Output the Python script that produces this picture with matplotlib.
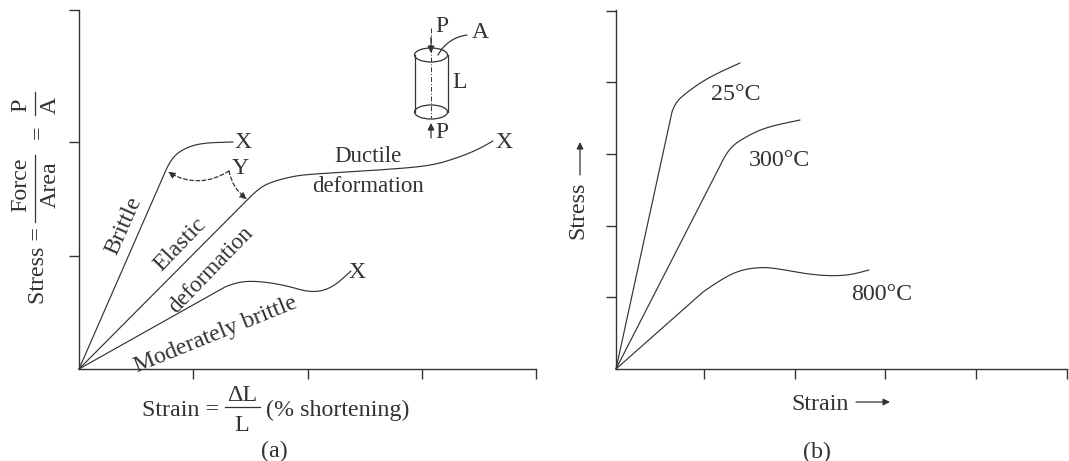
import numpy as np
import matplotlib
matplotlib.use("Agg")
import matplotlib.pyplot as plt
from matplotlib.patches import Ellipse, FancyArrowPatch

INK = "#333333"
plt.rcParams["font.family"] = ["Liberation Serif", "DejaVu Serif"]

# ---- panel (a) curves (arbitrary units)
brittle_x = [0, 87, 92, 104, 122, 154]
brittle_y = [0, 199, 210, 220, 226, 227]
ductile_x = [0, 169, 179, 192, 215, 234, 301, 351, 378, 398, 414]
ductile_y = [0, 170, 180, 187, 193, 195, 199, 203, 211, 219, 228]
moderate_x = [0, 146, 158, 178, 205, 233, 253, 272]
moderate_y = [0, 82, 87, 88, 84, 76, 81, 98]
a_xticks = [0, 114, 229, 343, 457]
a_yticks = [0, 113, 227, 359]

# ---- panel (b) curves
t25_x = [0, 56, 59, 70, 87, 104, 124]
t25_y = [0, 257, 266, 276, 288, 297, 306]
t300_x = [0, 107, 113, 131, 151, 184]
t300_y = [0, 209, 221, 233, 242, 249]
t800_x = [0, 87, 104, 124, 146, 164, 191, 214, 234, 253]
t800_y = [0, 77, 89, 99, 102, 100, 95, 93, 94, 99]
b_xticks = [0, 88, 179, 269, 360, 451]
b_yticks = [0, 72, 143, 215, 287, 358]

W, H = 1069, 461
fig = plt.figure(figsize=(W / 100, H / 100), dpi=100, facecolor="white")


def make_axes(left, top, right, bottom, xticks, yticks):
    ax = fig.add_axes([left / W, 1 - bottom / H, (right - left) / W, (bottom - top) / H])
    ax.set_xlim(0, right - left)
    ax.set_ylim(0, bottom - top)
    ax.patch.set_alpha(0)
    for s in ("top", "right"):
        ax.spines[s].set_visible(False)
    for s in ("left", "bottom"):
        ax.spines[s].set_color(INK)
        ax.spines[s].set_linewidth(1.0)
    ax.set_xticks(xticks)
    ax.set_yticks(yticks)
    ax.tick_params(length=7.5, width=1.0, color=INK, labelbottom=False, labelleft=False)
    ax.xaxis.get_major_ticks()[0].tick1line.set_visible(False)
    ax.yaxis.get_major_ticks()[0].tick1line.set_visible(False)
    return ax


def curve(ax, xs, ys):
    """Straight first segment, then a smooth path through the read points."""
    pts = np.column_stack([xs, ys]).astype(float)
    out = [pts[0], pts[1]]
    t = np.linspace(0, 1, 20)[:, None]
    start = pts[1]
    for i in range(2, len(pts) - 1):
        end = (pts[i] + pts[i + 1]) / 2
        out.extend((1 - t) ** 2 * start + 2 * t * (1 - t) * pts[i] + t ** 2 * end)
        start = end
    out.append(pts[-1])
    out = np.array(out)
    ax.plot(out[:, 0], out[:, 1], color=INK, lw=0.85, clip_on=False, solid_capstyle="round")


def label(ax, x, y, s, rot=0, size=17.3):
    a = np.radians(rot)
    ax.text(x + 2 * np.sin(a), y - 2 * np.cos(a), s, rotation=rot, rotation_mode="anchor",
            ha="center", va="center", fontsize=size, color=INK, clip_on=False)


def rule(ax, xs, ys, **kw):
    ax.plot(xs, ys, color=INK, lw=kw.pop("lw", 0.9), clip_on=False, **kw)


def arrow(ax, a, b, style="-|>", rad=0.0, ls="-", scale=10):
    ax.add_patch(FancyArrowPatch(a, b, arrowstyle=style, mutation_scale=scale, color=INK, lw=0.9,
                                 linestyle=ls, shrinkA=0, shrinkB=0, clip_on=False,
                                 connectionstyle=f"arc3,rad={rad}"))


# ---- panel (a)
ax = make_axes(79, 10, 536, 369, a_xticks, a_yticks)
curve(ax, brittle_x, brittle_y)
curve(ax, ductile_x, ductile_y)
curve(ax, moderate_x, moderate_y)

label(ax, 164, 229, "X", size=17)
label(ax, 161, 202, "Y", size=17)
label(ax, 425, 229, "X", size=17)
label(ax, 278, 99, "X", size=17)
label(ax, 43, 144, "Brittle", 66)
label(ax, 100, 126, "Elastic", 46)
label(ax, 131, 100, "deformation", 46, size=16.5)
label(ax, 136, 36, "Moderately brittle", 22)
label(ax, 289, 214, "Ductile", size=16.5)
label(ax, 289, 184, "deformation", size=16.5)

arrow(ax, (150, 198), (89, 197), rad=-0.3, ls=(0, (3, 2)))
arrow(ax, (150, 198), (168, 170), rad=0.2, ls=(0, (3, 2)))

# specimen
cx, top_y, bot_y, cw, ch = 352, 314, 257, 33, 14
ax.add_patch(Ellipse((cx, top_y), cw, ch, fill=False, ec=INK, lw=0.9, clip_on=False))
ax.add_patch(Ellipse((cx, bot_y), cw, ch, fill=False, ec=INK, lw=0.9, clip_on=False))
rule(ax, [cx - cw / 2] * 2, [top_y, bot_y])
rule(ax, [cx + cw / 2] * 2, [top_y, bot_y])
rule(ax, [cx, cx], [341, 251], ls=(0, (5, 2, 1, 2)), lw=0.7)
arrow(ax, (cx, 332), (cx, 316))
arrow(ax, (cx, 231), (cx, 246))
arrow(ax, (388, 334), (359, 314), style="-", rad=0.25)
label(ax, 363, 344, "P", size=17)
label(ax, 401, 338, "A", size=17)
label(ax, 381, 288, "L", size=17)
label(ax, 363, 239, "P", size=17)

# y-axis formula
label(ax, -43, 103, "Stress =", 90)
label(ax, -60, 184, "Force", 90)
label(ax, -31, 184, "Area", 90)
rule(ax, [-44, -44], [147, 214])
label(ax, -43, 237, "=", 90)
label(ax, -60, 264, "P", 90)
label(ax, -31, 264, "A", 90)
rule(ax, [-44, -44], [254, 277])

# x-axis formula
label(ax, 102, -39, "Strain =")
label(ax, 163, -24, "ΔL")
rule(ax, [146, 181], [-38, -38])
label(ax, 163, -54, "L")
label(ax, 259, -39, "(% shortening)")
label(ax, 195, -80, "(a)")

# ---- panel (b)
bx = make_axes(616, 10, 1067, 369, b_xticks, b_yticks)
curve(bx, t25_x, t25_y)
curve(bx, t300_x, t300_y)
curve(bx, t800_x, t800_y)
label(bx, 120, 276, "25°C")
label(bx, 163, 210, "300°C")
label(bx, 266, 76, "800°C")
label(bx, -40, 159, "Stress", 90)
arrow(bx, (-36, 194), (-36, 227))
label(bx, 204, -33, "Strain")
arrow(bx, (240, -33), (274, -33))
label(bx, 201, -81, "(b)")

fig.savefig("out.png", dpi=100, facecolor="white")
